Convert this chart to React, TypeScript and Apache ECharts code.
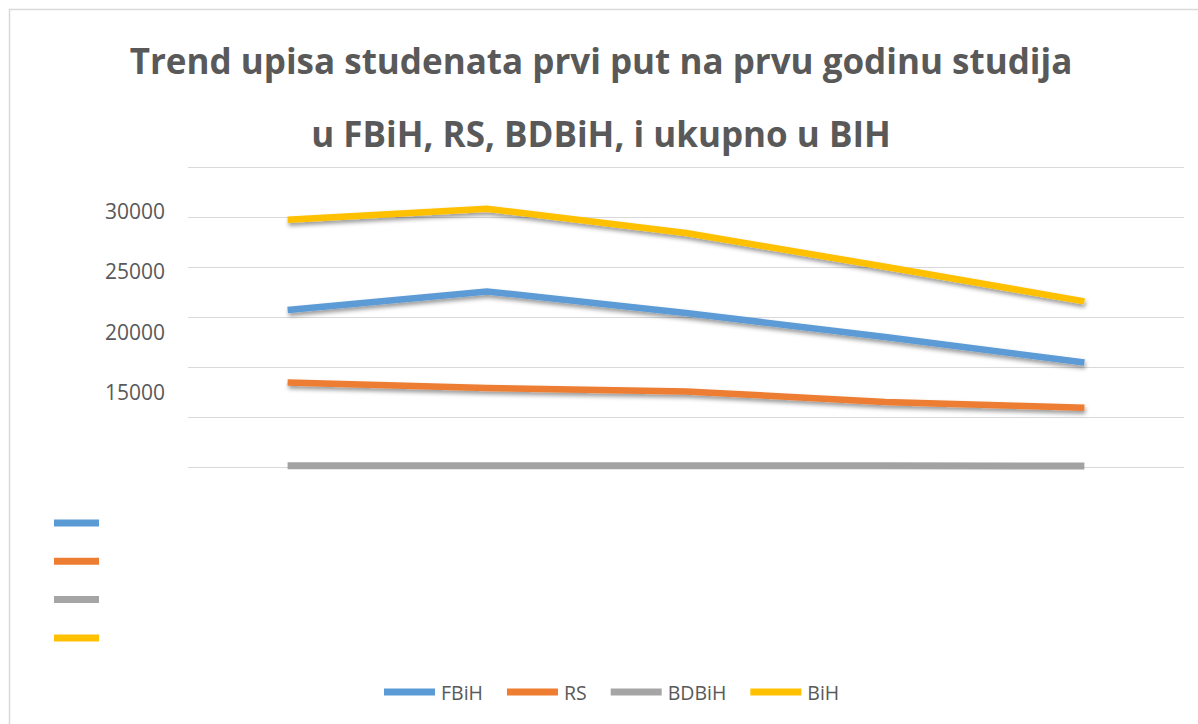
import React, { useEffect, useRef } from "react";
import * as echarts from "echarts";

const titleLines = [
  "Trend upisa studenata prvi put na prvu godinu studija",
  "u FBiH, RS, BDBiH, i ukupno u BIH",
];
const categories = ["1", "2", "3", "4", "5"];
const seriesNames = ["FBiH", "RS", "BDBiH", "BiH"];
const fbih = [15700, 17560, 15400, 13000, 10450];
const rs = [8460, 7900, 7560, 6500, 5930];
const bdbih = [130, 120, 130, 130, 100];
const bih = [24730, 25830, 23400, 20030, 16560];
const seriesColors = ["#5B9BD5", "#ED7D31", "#A5A5A5", "#FFC000"];
const yTickLabels = [15000, 20000, 25000, 30000];
const gridTicks = [0, 5000, 10000, 15000, 20000, 25000, 30000];

const FONT = "'Open Sans', 'Noto Sans', sans-serif";
const TEXT = "#595959";

export default function App() {
  const ref = useRef<HTMLDivElement>(null);
  useEffect(() => {
    if (!ref.current) return;
    const chart = echarts.init(ref.current, undefined, { renderer: "svg" });
    const values = [fbih, rs, bdbih, bih];
    const series = seriesNames.map((name, i) => {
      // a nearly flat line has a near-zero bounding box, which would crop an SVG shadow filter
      const flat = i === 2;
      return {
        name,
        type: "line",
        xAxisIndex: 0,
        yAxisIndex: 0,
        data: values[i],
        symbol: "none",
        showSymbol: false,
        color: seriesColors[i],
        z: flat ? 3 : 2,
        lineStyle: flat
          ? { width: 7, color: "#a2a2a2", cap: "butt", join: "miter" }
          : {
              width: 6.5,
              color: seriesColors[i],
              cap: "butt",
              join: "miter",
              shadowColor: "rgba(0,0,0,0.4)",
              shadowBlur: 4,
              shadowOffsetX: 1,
              shadowOffsetY: 3,
            },
      };
    });
    chart.setOption({
      animation: false,
      backgroundColor: "#ffffff",
      graphic: [
        {
          type: "rect",
          shape: { x: 9.5, y: 9.5, width: 1300, height: 900 },
          style: { fill: "none", stroke: "#d9d9d9", lineWidth: 1.5 },
          silent: true,
          z: 0,
        },
      ],
      title: {
        text: titleLines.join("\n"),
        left: 596,
        top: 19,
        textAlign: "center",
        textStyle: {
          fontFamily: FONT,
          fontWeight: "bold",
          fontSize: 35,
          color: TEXT,
          lineHeight: 73,
        },
      },
      legend: [
        {
          data: seriesNames,
          left: 384,
          top: 682,
          orient: "horizontal",
          icon: "rect",
          itemWidth: 51,
          itemHeight: 7,
          itemGap: 24,
          padding: 0,
          textStyle: { fontFamily: FONT, fontSize: 19.5, color: TEXT, padding: [0, 0, 0, 1] },
        },
        {
          data: seriesNames,
          left: 54,
          top: 519.5,
          orient: "vertical",
          icon: "rect",
          itemWidth: 45,
          itemHeight: 7,
          itemGap: 31.3,
          padding: 0,
          formatter: () => "",
          textStyle: { fontFamily: FONT, fontSize: 7, lineHeight: 7 },
        },
      ],
      grid: [
        { left: 188, right: 14, top: 167, height: 300 },
        { left: 188, right: 14, top: 211, height: 181 },
      ],
      xAxis: [
        {
          type: "category",
          gridIndex: 0,
          data: categories,
          boundaryGap: true,
          axisLine: { show: false },
          axisTick: { show: false },
          axisLabel: { show: false },
        },
        {
          type: "category",
          gridIndex: 1,
          data: categories,
          show: false,
        },
      ],
      yAxis: [
        {
          type: "value",
          gridIndex: 0,
          min: gridTicks[0],
          max: gridTicks[gridTicks.length - 1],
          interval: gridTicks[1] - gridTicks[0],
          axisLine: { show: false },
          axisTick: { show: false },
          axisLabel: { show: false },
          splitLine: { lineStyle: { color: "#d9d9d9", width: 1 } },
        },
        {
          type: "value",
          gridIndex: 1,
          min: yTickLabels[0],
          max: yTickLabels[yTickLabels.length - 1],
          interval: yTickLabels[1] - yTickLabels[0],
          axisLine: { show: false },
          axisTick: { show: false },
          splitLine: { show: false },
          axisLabel: {
            margin: 23,
            fontFamily: FONT,
            fontSize: 21,
            color: TEXT,
            formatter: (v: number) => String(v),
          },
        },
      ],
      series,
    });
    return () => chart.dispose();
  }, []);
  return (
    <div
      ref={ref}
      style={{ position: "fixed", left: 0, top: 0, width: 1198, height: 724 }}
    />
  );
}
